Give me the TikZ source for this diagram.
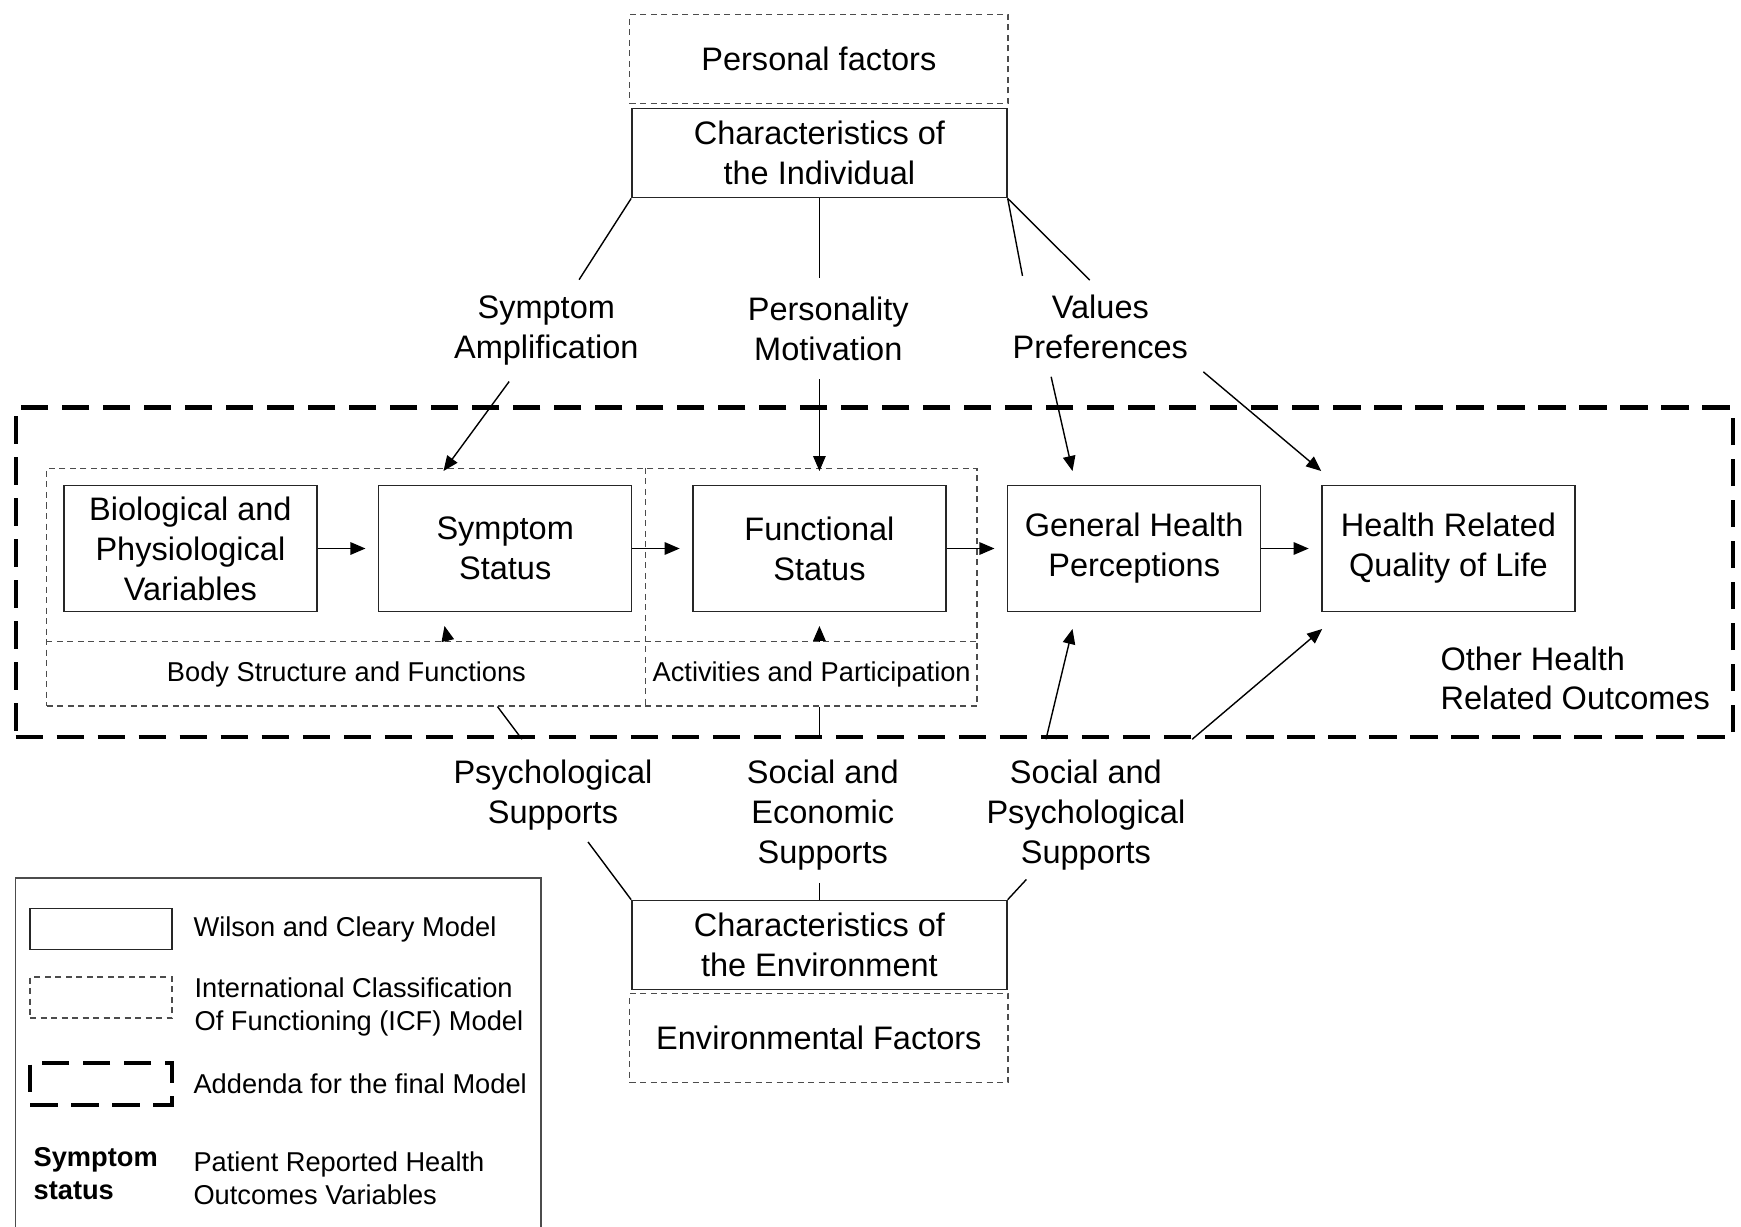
\documentclass[tikz,border=0pt]{standalone}
\usepackage{fontspec}
\setmainfont{Liberation Sans}
\usepackage{tikz}
\usetikzlibrary{arrows.meta}

\newcommand{\txtbig}{\fontsize{18.5pt}{22.7pt}\selectfont}
\newcommand{\txtsmall}{\fontsize{15.5pt}{19pt}\selectfont}

\begin{document}
\begin{tikzpicture}[x=0.0222cm, y=-0.0222cm,
    >={Triangle[length=0.3cm,width=0.25cm]},
    wc/.style={draw=black!85, line width=0.8pt, inner sep=0pt, align=center, font=\txtbig,
      minimum width=5.06cm, minimum height=2.53cm},
    icf/.style={draw=black!70, line width=0.8pt, dash pattern=on 0.12cm off 0.09cm},
    addendum/.style={draw=black, line width=2.4pt, dash pattern=on 0.55cm off 0.27cm},
    lbl/.style={align=center, font=\txtbig, inner sep=2pt},
    conn/.style={line width=0.8pt, black}]

    \useasboundingbox (0,0) rectangle (1568,1105);
    \fill[white] (0,0) rectangle (1568,1105);

    % Addenda frame
    \node[addendum, minimum width=34.34cm, minimum height=6.59cm] (addenda) at (787.5,515.5) {};

    % ICF frame
    \node[icf, minimum width=18.6cm, minimum height=4.75cm] (icfbox) at (461,529) {};
    \node[font=\txtsmall, inner sep=0pt, minimum width=11.99cm, minimum height=1.29cm] (bsf) at (312,607) {Body Structure and Functions};
    \node[font=\txtsmall, inner sep=0pt, minimum width=6.62cm, minimum height=1.29cm] (ap) at (731,607) {Activities and Participation};
    \draw[icf] (bsf.north west) -- (ap.north east);
    \draw[icf] (ap.north west |- icfbox.north) -- (ap.south west);

    % Individual
    \node[icf, inner sep=0pt, font=\txtbig, minimum width=7.57cm, minimum height=1.78cm] (pers) at (737.5,53) {Personal factors};
    \node[wc, minimum width=7.5cm, minimum height=1.78cm] (ind) at (738,138) {Characteristics of\\the Individual};

    % Main chain
    \node[wc] (bio) at (171.5,494) {Biological and\\Physiological\\Variables};
    \node[wc] (sym) at (455,494) {Symptom\\Status};
    \node[wc] (func) at (738,494) {Functional\\Status};
    \node[wc] (gen) at (1021.5,494) {General Health\\Perceptions};
    \node[wc] (hrql) at (1304.5,494) {Health Related\\Quality of Life};

    \draw[conn,->,shorten >=0.25cm] (bio) -- (sym);
    \draw[conn,->,shorten >=0.25cm] (sym) -- (func);
    \draw[conn,->,shorten >=0.25cm] (func) -- (gen);
    \draw[conn,->,shorten >=0.25cm] (gen) -- (hrql);

    \node[lbl, anchor=west, align=left] (other) at (1294,611) {Other Health\\Related Outcomes};

    % Individual influences
    \node[lbl] (symamp) at (492,298) {Symptom\\Amplification};
    \node[lbl] (persmot) at (746,296) {Personality\\Motivation};
    \node[lbl] (valpref) at (991,294) {Values\\Preferences};

    \draw[conn,shorten >=0.3cm] (ind.south west) -- (symamp);
    \draw[conn,shorten >=0.3cm] (ind.south) -- (ind.south |- persmot.north);
    \draw[conn,shorten >=0.3cm] (ind.south east) -- ([xshift=0.33cm]valpref.north west);
    \draw[conn,shorten >=0.3cm] (ind.south east) -- (valpref.north);

    \draw[conn,->,shorten <=0.3cm] (symamp) -- ([xshift=1.31cm,yshift=0.27cm]sym.north west);
    \draw[conn,->,shorten <=0.3cm] (persmot.south -| func) -- ([yshift=0.27cm]func.north);
    \draw[conn,->,shorten <=0.3cm] ([xshift=-1.05cm]valpref.south) -- ([xshift=1.31cm,yshift=0.27cm]gen.north west);
    \draw[conn,->,shorten <=0.3cm] (valpref.south east) -- ([yshift=0.27cm]hrql.north west);

    % Environment
    \node[wc, minimum width=7.5cm, minimum height=1.78cm] (env) at (738,851) {Characteristics of\\the Environment};
    \node[icf, inner sep=0pt, font=\txtbig, minimum width=7.57cm, minimum height=1.78cm] (envf) at (737.5,935) {Environmental Factors};

    \node[lbl] (psychsup) at (498,716) {Psychological\\Supports};
    \node[lbl] (socecon) at (741,734) {Social and\\Economic\\Supports};
    \node[lbl] (socpsych) at (978,734) {Social and\\Psychological\\Supports};

    \draw[conn,shorten <=0.2cm] (psychsup) -- (env.north west);
    \draw[conn,shorten <=0.18cm] (socecon.south -| env) -- (env.north);
    \draw[conn,shorten <=0.15cm] (socpsych) -- (env.north east);

    % Environmental influences
    \draw[conn] ([xshift=3.02cm]bsf.south) -- ([xshift=3.51cm]bsf.south |- addenda.south);
    \draw[conn,->] ([xshift=1.4cm]sym.south west |- bsf.north) -- ([xshift=1.33cm,yshift=-0.27cm]sym.south west);
    \draw[conn] (ap.south -| func) -- (addenda.south -| func);
    \draw[conn,->] (ap.north -| func) -- ([yshift=-0.27cm]func.south);
    \draw[conn,->] ([xshift=0.78cm]gen.south west |- addenda.south) -- ([xshift=1.31cm,yshift=-0.33cm]gen.south west);
    \draw[conn,->] ([xshift=-2.58cm]hrql.south west |- addenda.south) -- ([xshift=0.02cm,yshift=-0.33cm]hrql.south west);

    % Legend
    \draw[line width=0.9pt, black!70] (14,1105) -- (14,791) -- (487,791) -- (487,1105);
    \node[draw=black!85, line width=0.8pt, minimum width=2.84cm, minimum height=0.82cm] (lwc) at (91,836.5) {};
    \node[icf, minimum width=2.84cm, minimum height=0.82cm] (licf) at (91,898.5) {};
    \node[addendum, minimum width=2.84cm, minimum height=0.84cm] (ladd) at (91,976) {};
    \node[anchor=west, font=\txtsmall, inner sep=0pt] (twc) at (174,837) {Wilson and Cleary Model};
    \node[anchor=west, font=\txtsmall, inner sep=0pt, align=left] (ticf) at (175,907) {International Classification\\Of Functioning (ICF) Model};
    \node[anchor=west, font=\txtsmall, inner sep=0pt] (tadd) at (174,976) {Addenda for the final Model};
    \node[anchor=west, font=\txtsmall\bfseries, inner sep=0pt, align=left] (tsym) at (30,1057) {Symptom\\status};
    \node[anchor=west, font=\txtsmall, inner sep=0pt, align=left] (tpro) at (174,1061) {Patient Reported Health\\Outcomes Variables};
\end{tikzpicture}
\end{document}
